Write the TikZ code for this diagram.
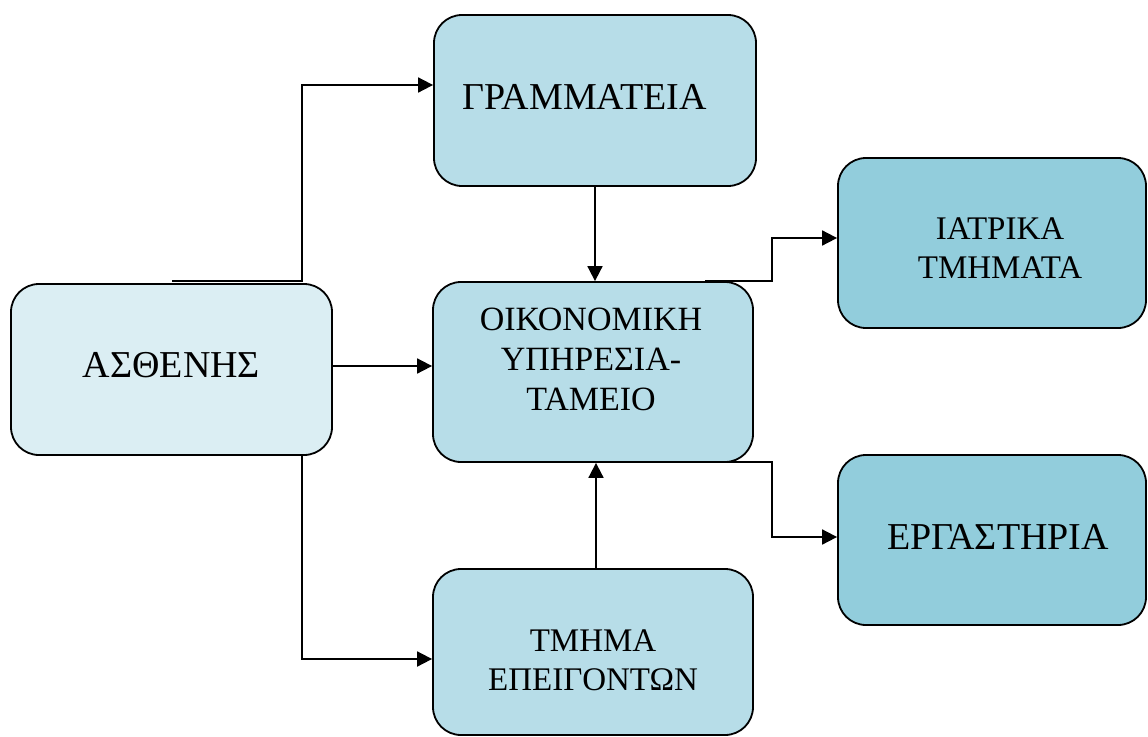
\documentclass[tikz,border=0pt]{standalone}
\usepackage{fontspec}
\setmainfont{Liberation Serif}
\usetikzlibrary{arrows.meta}
\definecolor{lightfill}{HTML}{DBEEF3}
\definecolor{midfill}{HTML}{B7DDE8}
\definecolor{darkfill}{HTML}{92CDDC}
\tikzset{
  box/.style={draw=black, line width=1.8pt, rounded corners=28pt, inner sep=0pt},
  bigtext/.style={font=\fontsize{38}{45}\selectfont, align=center, inner sep=0pt},
  smalltext/.style={font=\fontsize{33}{39}\selectfont, align=center, inner sep=0pt},
  oiktext/.style={font=\fontsize{34}{40}\selectfont, align=center, inner sep=0pt},
  arr/.style={draw=black, line width=1.8pt, -{Triangle[length=15pt,width=15pt]}}
}
\begin{document}
\begin{tikzpicture}[x=1pt,y=-1pt]
\useasboundingbox (0,0) rectangle (1148,736);
% connector corner points
\coordinate (j1a) at (172,281);
\coordinate (j1b) at (302,281);
\coordinate (j1c) at (302,85);
\coordinate (j3) at (302,659);
\coordinate (j4a) at (705,281);
\coordinate (j4b) at (772,281);
\coordinate (j4c) at (772,238);
\coordinate (j5a) at (705,462);
\coordinate (j5b) at (772,462);
\coordinate (j5c) at (772,537);
% boxes
\node[box, fill=lightfill, minimum width=321pt, minimum height=171pt,
  label={[bigtext, yshift=4pt]center:ΑΣΘΕΝΗΣ}] (asth) at (171.5,369.5) {};
\node[box, fill=midfill, minimum width=322pt, minimum height=171pt,
  label={[bigtext, xshift=-10.5pt, yshift=3.5pt]center:ΓΡΑΜΜΑΤΕΙΑ}] (gram) at (595,100.5) {};
\node[box, fill=midfill, minimum width=320pt, minimum height=180pt,
  label={[oiktext, xshift=-2pt, yshift=12.5pt]center:ΟΙΚΟΝΟΜΙΚΗ\\ΥΠΗΡΕΣΙΑ-\\ΤΑΜΕΙΟ}] (oik) at (593,372) {};
\node[box, fill=midfill, minimum width=320pt, minimum height=166pt,
  label={[smalltext, yshift=-8pt]center:ΤΜΗΜΑ\\ΕΠΕΙΓΟΝΤΩΝ}] (tmima) at (593,652) {};
\node[box, fill=darkfill, minimum width=308pt, minimum height=170pt,
  label={[smalltext, xshift=8pt, yshift=-5pt]center:ΙΑΤΡΙΚΑ\\ΤΜΗΜΑΤΑ}] (iatr) at (992,243) {};
\node[box, fill=darkfill, minimum width=308pt, minimum height=170pt,
  label={[bigtext, xshift=6pt, yshift=3.5pt]center:ΕΡΓΑΣΤΗΡΙΑ}] (erg) at (992,540) {};
% connectors
\draw[arr] (j1a) -- (j1b) -- (j1c) -- (j1c -| gram.west);
\draw[arr] ([yshift=3.5pt]asth.east) -- ([yshift=3.5pt]asth.east -| oik.west);
\draw[arr] (asth.south -| j3) -- (j3) -- (j3 -| tmima.west);
\draw[arr] (gram.south) -- (gram.south |- oik.north);
\draw[arr] ([xshift=3pt]tmima.north) -- ([xshift=3pt]tmima.north |- oik.south);
\draw[arr] (j4a) -- (j4b) -- (j4c) -- (j4c -| iatr.west);
\draw[arr] (j5a) -- (j5b) -- (j5c) -- (j5c -| erg.west);
\end{tikzpicture}
\end{document}
